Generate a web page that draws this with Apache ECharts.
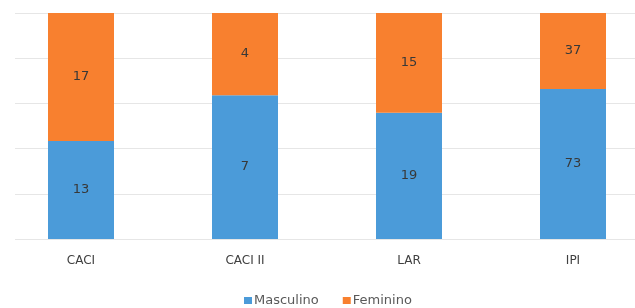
<!DOCTYPE html>
<html>
<head>
<meta charset="utf-8">
<script src="https://cdn.jsdelivr.net/npm/echarts@6/dist/echarts.min.js"></script>
<style>
  html, body { margin: 0; padding: 0; background: #fff; }
  #chart { width: 635px; height: 308px; }
</style>
</head>
<body>
<div id="chart"></div>
<script>
// dados
const categorias = ['CACI', 'CACI II', 'LAR', 'IPI']
const masculino = [13, 7, 19, 73]
const feminino = [17, 4, 15, 37]
const ticksPct = [0, 20, 40, 60, 80, 100]

const totais = masculino.map((m, i) => m + feminino[i])
// 100% empilhado
const pct = (arr) => arr.map((v, i) => v / totais[i] * 100)

const myChart = echarts.init(document.getElementById('chart'))

const rotulo = (arr) => ({
    show: true,
    position: 'inside',
    color: '#383838',
    fontSize: 13,
    fontFamily: 'DejaVu Sans',
    formatter: (p) => arr[p.dataIndex]
})

const options = {
    animation: false,
    legend: {
        data: ['Masculino', 'Feminino'],
        left: 239,
        top: 289,
        itemWidth: 8,
        itemHeight: 7,
        itemGap: 24,
        icon: 'rect',
        textStyle: { color: '#595959', fontSize: 13, fontFamily: 'DejaVu Sans', padding: [0, 0, 0, -3] }
    },
    // grid 0: barras, grid 1: só as linhas de grade
    grid: [
        { left: -1, width: 656, top: 13, bottom: 69, outerBoundsMode: 'none' },
        { left: 15, right: 0, top: 13, bottom: 69 }
    ],
    xAxis: [
        {
            type: 'category',
            gridIndex: 0,
            data: categorias,
            axisLine: { show: false },
            axisTick: { show: false },
            axisLabel: { color: '#404040', fontSize: 12, fontFamily: 'DejaVu Sans', margin: 16 }
        },
        { type: 'category', gridIndex: 1, data: [''], show: false }
    ],
    yAxis: [
        { type: 'value', gridIndex: 0, min: 0, max: 100, interval: 20, show: false },
        {
            type: 'value',
            gridIndex: 1,
            min: ticksPct[0],
            max: ticksPct[ticksPct.length - 1],
            interval: 20,
            axisLabel: { show: false },
            axisLine: { show: false },
            axisTick: { show: false },
            splitLine: { show: true, lineStyle: { color: '#e6e6e6', width: 1 } }
        }
    ],
    series: [
        {
            name: 'Masculino',
            type: 'bar',
            stack: 'total',
            barWidth: 66,
            data: pct(masculino),
            itemStyle: { color: '#4b9bd9' },
            label: rotulo(masculino)
        },
        {
            name: 'Feminino',
            type: 'bar',
            stack: 'total',
            barWidth: 66,
            data: pct(feminino),
            itemStyle: { color: '#f8802f' },
            label: rotulo(feminino)
        }
    ]
}
myChart.setOption(options)
</script>
</body>
</html>
